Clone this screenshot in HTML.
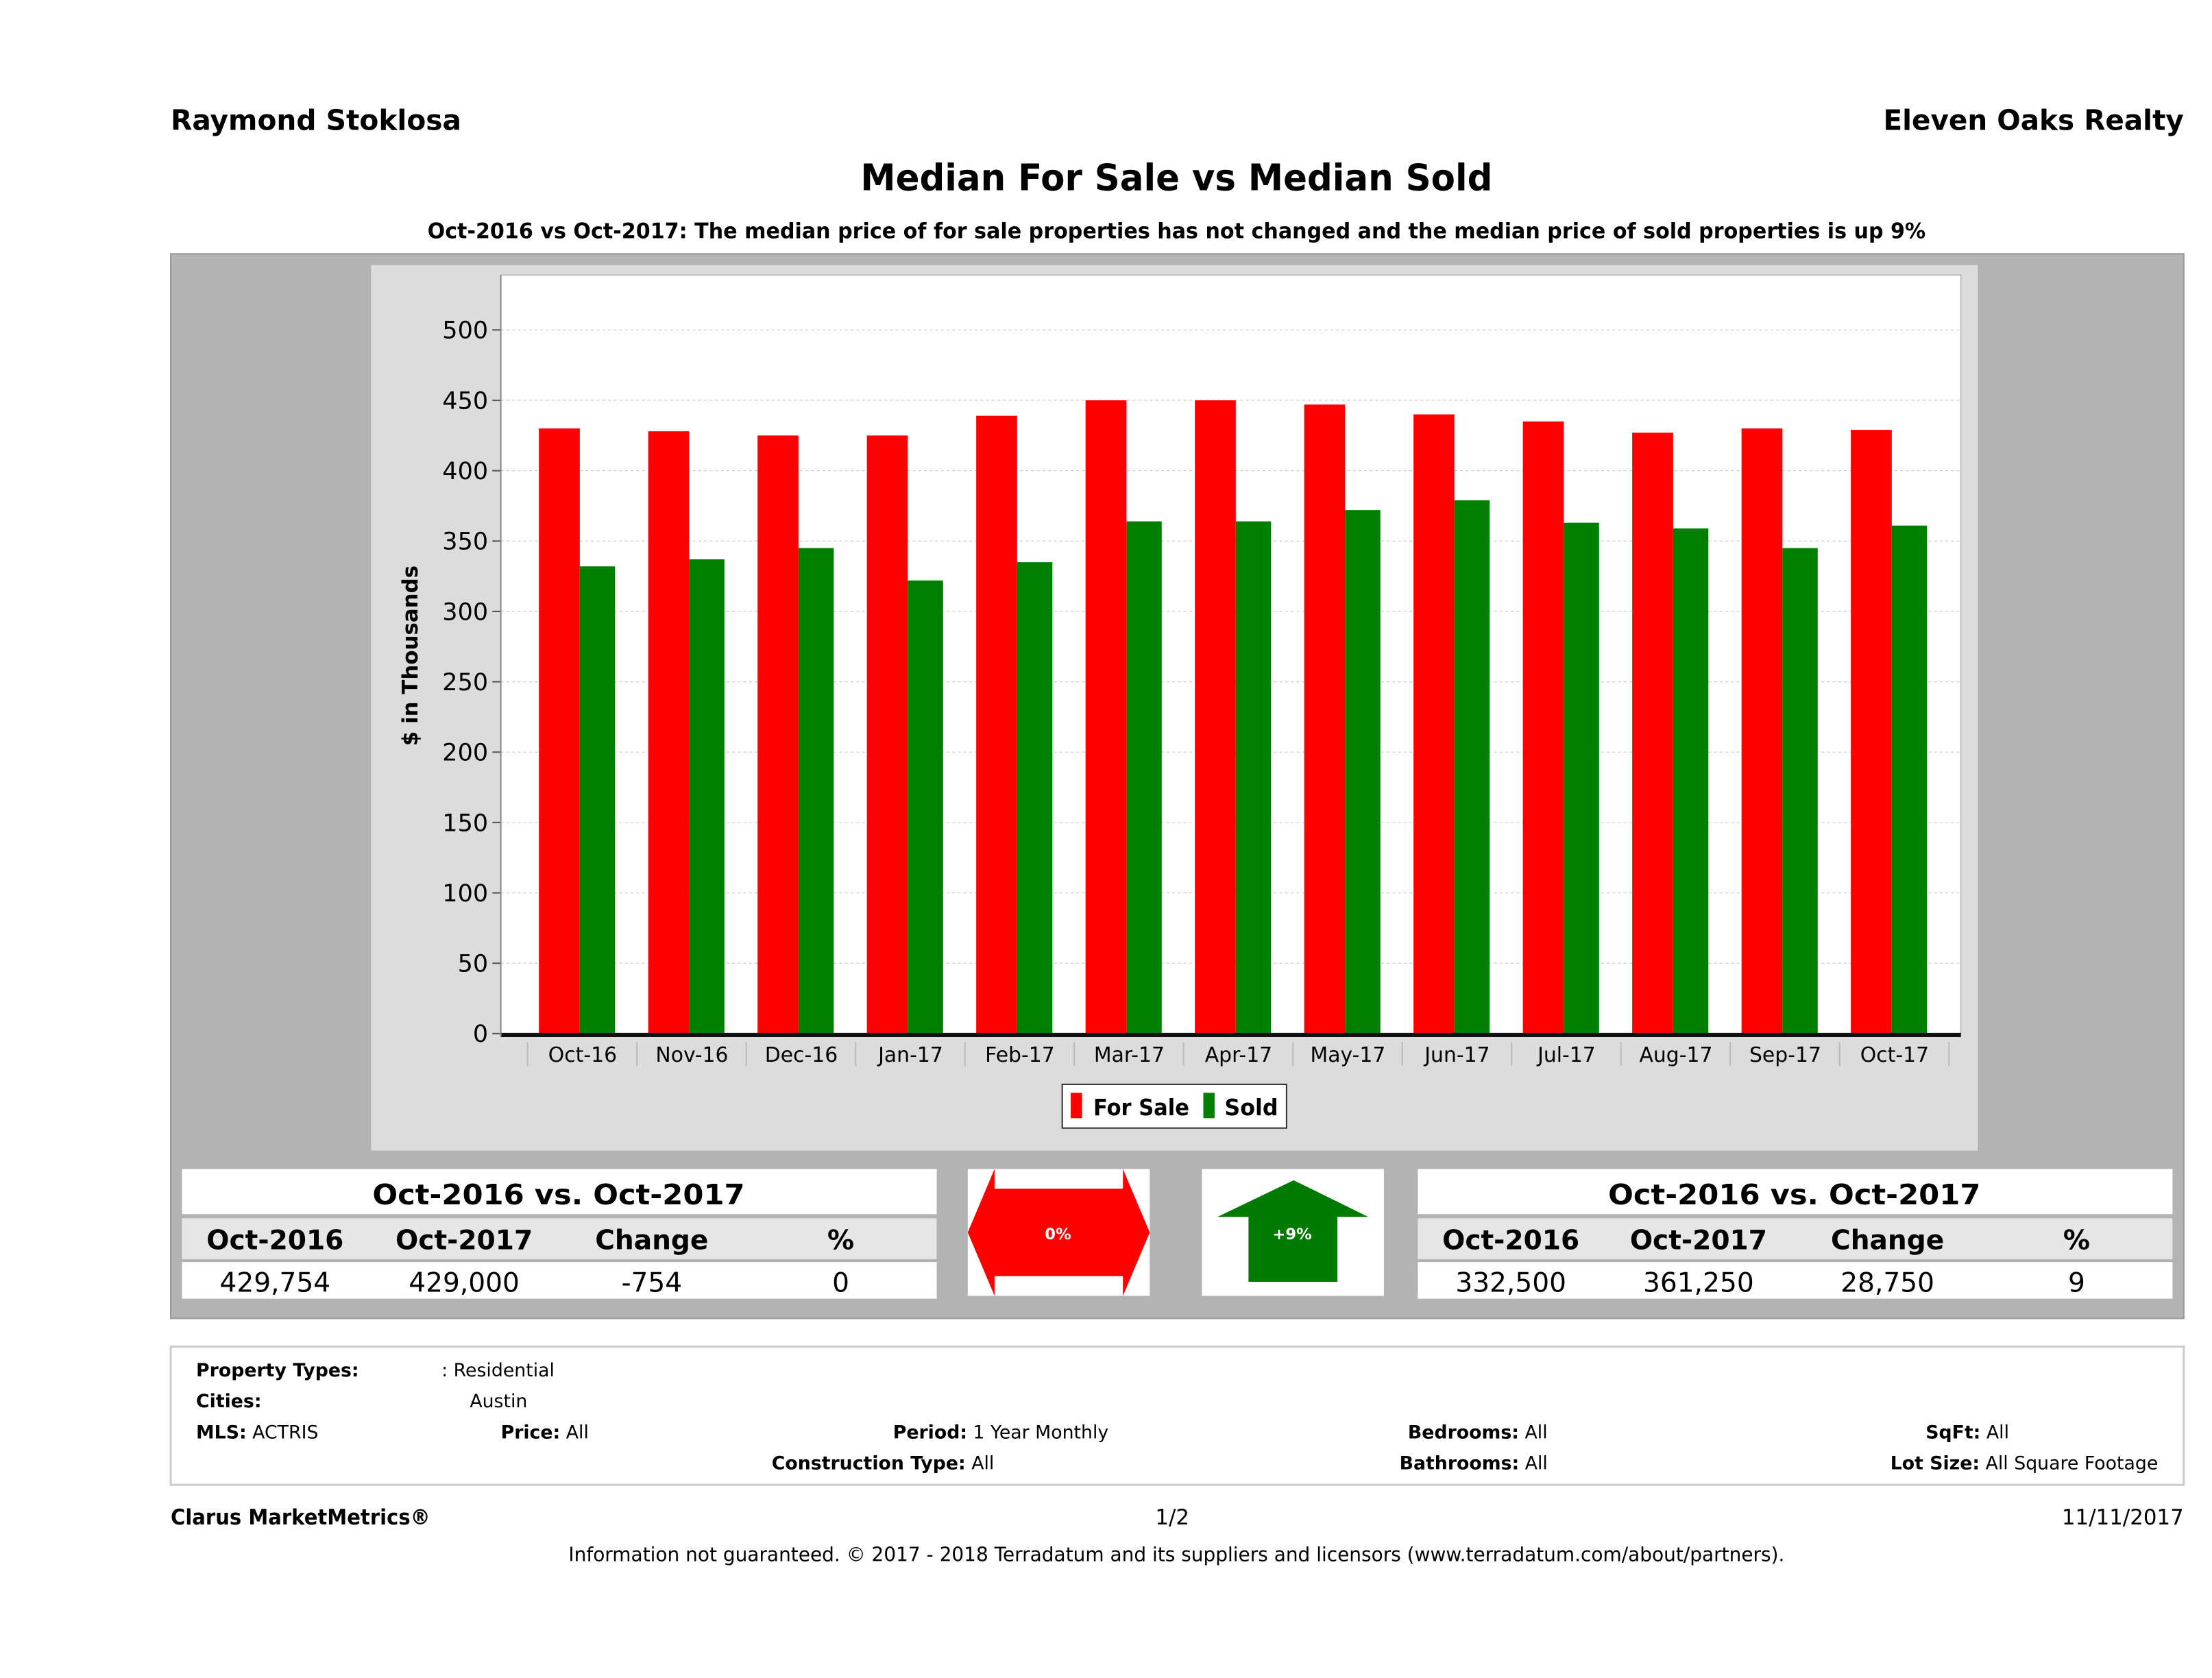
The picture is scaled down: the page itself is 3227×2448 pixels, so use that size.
<!DOCTYPE html>
<html><head><meta charset="utf-8"><style>
html,body{margin:0;padding:0;background:#fff;width:3227px;height:2448px;overflow:hidden}
svg{display:block}
text{font-family:"DejaVu Sans","Liberation Sans",sans-serif;fill:#000}
</style></head><body>
<svg id="root" width="3227" height="2448" viewBox="0 0 1568 1190" preserveAspectRatio="none" xmlns="http://www.w3.org/2000/svg">
<text x="121" y="92" font-size="20" font-weight="bold" textLength="206" lengthAdjust="spacingAndGlyphs">Raymond Stoklosa</text>
<text x="1548" y="92" font-size="20" font-weight="bold" text-anchor="end" textLength="213" lengthAdjust="spacingAndGlyphs">Eleven Oaks Realty</text>
<text x="834" y="135" font-size="26" font-weight="bold" text-anchor="middle" textLength="448" lengthAdjust="spacingAndGlyphs">Median For Sale vs Median Sold</text>
<text x="834" y="169" font-size="15" font-weight="bold" text-anchor="middle" textLength="1062" lengthAdjust="spacingAndGlyphs">Oct-2016 vs Oct-2017: The median price of for sale properties has not changed and the median price of sold properties is up 9%</text>
<rect x="121" y="180" width="1427" height="755" fill="#b3b3b3" stroke="#999"/>
<rect x="263" y="188" width="1139" height="628" fill="#dcdcdc"/>
<rect x="355" y="195" width="1035" height="539" fill="#fff" stroke="#aaa" stroke-width="0.6"/>
<g id="grid"></g><g id="bars"></g><g id="axes"></g>
<text transform="translate(296,465) rotate(-90)" font-size="15" font-weight="bold" text-anchor="middle">$ in Thousands</text>
<rect x="753" y="769" width="159" height="31" fill="#fff" stroke="#333"/>
<rect x="759" y="775" width="8" height="18" fill="#f00"/>
<text x="775" y="791" font-size="16" font-weight="bold" textLength="68" lengthAdjust="spacingAndGlyphs">For Sale</text>
<rect x="853" y="775" width="8" height="18" fill="#008000"/>
<text x="868" y="791" font-size="16" font-weight="bold" textLength="38" lengthAdjust="spacingAndGlyphs">Sold</text>

<g>
<rect x="129" y="829" width="535" height="32" fill="#fff"/>
<text x="396" y="854" font-size="20" font-weight="bold" text-anchor="middle" textLength="264" lengthAdjust="spacingAndGlyphs">Oct-2016 vs. Oct-2017</text>
<rect x="129" y="864" width="535" height="29" fill="#e6e6e6"/>
<rect x="129" y="895" width="535" height="26" fill="#fff"/>
<g font-size="19" font-weight="bold" text-anchor="middle">
<text x="195" y="886">Oct-2016</text><text x="329" y="886">Oct-2017</text><text x="462" y="886">Change</text><text x="596" y="886">%</text></g>
<g font-size="19" text-anchor="middle">
<text x="195" y="916">429,754</text><text x="329" y="916">429,000</text><text x="462" y="916">-754</text><text x="596" y="916">0</text></g>
</g>
<rect x="686" y="829" width="129" height="90" fill="#fff"/>
<polygon points="686,874 705,829 705,843 796,843 796,829 815,874 796,919 796,905 705,905 705,919" fill="#f00"/>
<text x="750" y="879" font-size="11" font-weight="bold" text-anchor="middle" style="fill:#fff">0%</text>
<rect x="852" y="829" width="129" height="90" fill="#fff"/>
<polygon points="917,837 970,863 948,863 948,909 885,909 885,863 863,863" fill="#007a00"/>
<text x="916" y="879" font-size="11" font-weight="bold" text-anchor="middle" style="fill:#fff">+9%</text>

<g>
<rect x="1005" y="829" width="535" height="32" fill="#fff"/>
<text x="1272" y="854" font-size="20" font-weight="bold" text-anchor="middle" textLength="264" lengthAdjust="spacingAndGlyphs">Oct-2016 vs. Oct-2017</text>
<rect x="1005" y="864" width="535" height="29" fill="#e6e6e6"/>
<rect x="1005" y="895" width="535" height="26" fill="#fff"/>
<g font-size="19" font-weight="bold" text-anchor="middle">
<text x="1071" y="886">Oct-2016</text><text x="1204" y="886">Oct-2017</text><text x="1338" y="886">Change</text><text x="1472" y="886">%</text></g>
<g font-size="19" text-anchor="middle">
<text x="1071" y="916">332,500</text><text x="1204" y="916">361,250</text><text x="1338" y="916">28,750</text><text x="1472" y="916">9</text></g>
</g>

<rect x="121" y="955" width="1427" height="98" fill="#fff" stroke="#ccc" stroke-width="1.5"/>
<g font-size="13">
<text x="139" y="976" font-weight="bold">Property Types:</text><text x="313" y="976">: Residential</text>
<text x="139" y="998" font-weight="bold">Cities:</text><text x="333" y="998">Austin</text>
<text x="139" y="1020"><tspan font-weight="bold">MLS:</tspan>  ACTRIS</text>
<text x="355" y="1020"><tspan font-weight="bold">Price:</tspan> All</text>
<text x="633" y="1020"><tspan font-weight="bold">Period:</tspan> 1 Year Monthly</text>
<text x="998" y="1020"><tspan font-weight="bold">Bedrooms:</tspan> All</text>
<text x="1365" y="1020"><tspan font-weight="bold">SqFt:</tspan>  All</text>
<text x="547" y="1042"><tspan font-weight="bold">Construction Type:</tspan> All</text>
<text x="992" y="1042"><tspan font-weight="bold">Bathrooms:</tspan> All</text>
<text x="1340" y="1042"><tspan font-weight="bold">Lot Size:</tspan>  All Square Footage</text>
</g>
<text x="121" y="1081" font-size="15" font-weight="bold" textLength="184" lengthAdjust="spacingAndGlyphs">Clarus MarketMetrics®</text>
<text x="831" y="1081" font-size="15" text-anchor="middle">1/2</text>
<text x="1548" y="1081" font-size="15" text-anchor="end">11/11/2017</text>
<text x="834" y="1107" font-size="14" text-anchor="middle" textLength="862" lengthAdjust="spacingAndGlyphs">Information not guaranteed. © 2017 - 2018 Terradatum and its suppliers and licensors (www.terradatum.com/about/partners).</text>
</svg>
<script>
const categories=["Oct-16","Nov-16","Dec-16","Jan-17","Feb-17","Mar-17","Apr-17","May-17","Jun-17","Jul-17","Aug-17","Sep-17","Oct-17"];
const forSale=[430,428,425,425,439,450,450,447,440,435,427,430,429];
const sold=[332,337,345,322,335,364,364,372,379,363,359,345,361];
const yTicks=[0,50,100,150,200,250,300,350,400,450,500];
const NS="http://www.w3.org/2000/svg";
const y=v=>733-v*(499/500);
const xc=i=>374+i*77.5;
function mk(tag,attrs,parent){const e=document.createElementNS(NS,tag);for(const k in attrs)e.setAttribute(k,attrs[k]);parent.appendChild(e);return e;}
const grid=document.getElementById('grid'),bars=document.getElementById('bars'),axes=document.getElementById('axes');
yTicks.forEach(t=>{
  const g=mk('line',{x1:355,x2:1390,y1:y(t),y2:y(t),stroke:'#ccc','stroke-dasharray':'2,2','stroke-width':0.6},grid);
  
  
  const tk=mk('line',{x1:349,x2:355,y1:y(t),y2:y(t),stroke:'#555'},axes);
  
  
  const l=mk('text',{x:346,y:y(t)+6,'font-size':17,'text-anchor':'end'},axes);
  l.textContent=t;
  
  
});
categories.forEach((c,i)=>{
  const r=mk('rect',{x:xc(i)+8,y:y(forSale[i]),width:29,height:y(0)-y(forSale[i]),fill:'#f00'},bars);
  
  
  const g=mk('rect',{x:xc(i)+37,y:y(sold[i]),width:25,height:y(0)-y(sold[i]),fill:'#008000'},bars);
  
  
  const s=mk('line',{x1:xc(i),x2:xc(i),y1:739,y2:756,stroke:'#bbb'},axes);
  
  
  const l=mk('text',{x:xc(i)+39,y:753,'font-size':14.5,'text-anchor':'middle'},axes);
  l.textContent=c;
  
  
});
const s2=mk('line',{x1:xc(13),x2:xc(13),y1:739,y2:756,stroke:'#bbb'},axes);


const ax=mk('line',{x1:355,x2:1390,y1:734,y2:734,stroke:'#111','stroke-width':3},axes);


const ay=mk('line',{x1:355,x2:355,y1:195,y2:735,stroke:'#888'},axes);


</script>
</body></html>
